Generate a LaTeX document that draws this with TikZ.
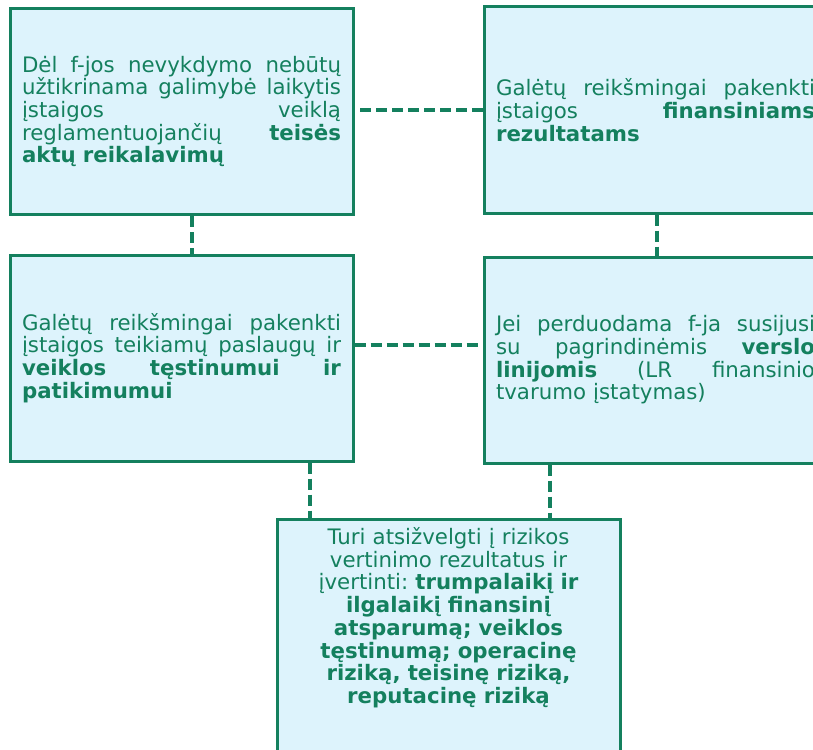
\documentclass[tikz,border=0pt]{standalone}
\usepackage{fontspec}
\setmainfont{DejaVu Sans}
\usetikzlibrary{calc}
\definecolor{grn}{RGB}{20,128,94}
\definecolor{lfill}{RGB}{221,243,252}
\frenchspacing
\tikzset{
  card/.style={draw=grn, fill=lfill, line width=3pt, text=grn,
    minimum width=343pt, minimum height=206pt, text width=319pt,
    inner xsep=0pt, inner ysep=0pt, align=left,
    font=\fontsize{21.3}{22.7}\selectfont},
  conn/.style={draw=grn, line width=4pt, dash pattern=on 11pt off 5pt},
}
\newcommand{\jline}[1]{{\spaceskip=0.318em plus 1fil\xspaceskip=\spaceskip\makebox[319pt][s]{#1}}}
\begin{document}
\begin{tikzpicture}[x=1pt,y=-1pt]
\useasboundingbox (0,0) rectangle (813,749);
\clip (0,0) rectangle (813,749);

\node[card] (b1) at (181.5,111.5) {\jline{Dėl f-jos nevykdymo nebūtų}\\
  \jline{užtikrinama galimybė laikytis}\\
  \jline{įstaigos veiklą}\\
  \jline{reglamentuojančių \textbf{teisės}}\\
  \textbf{aktų reikalavimų}};

\node[card] (b2) at (655.5,110) {\jline{Galėtų reikšmingai pakenkti}\\
  \jline{įstaigos \textbf{finansiniams}}\\
  \textbf{rezultatams}};

\node[card] (b3) at (181.5,358) {\jline{Galėtų reikšmingai pakenkti}\\
  \jline{įstaigos teikiamų paslaugų ir}\\
  \jline{\textbf{veiklos tęstinumui ir}}\\
  \textbf{patikimumui}};

\node[card] (b4) at (655.5,360) {\jline{Jei perduodama f-ja susijusi}\\
  \jline{su pagrindinėmis \textbf{verslo}}\\
  \jline{\textbf{linijomis} (LR finansinio}\\
  tvarumo įstatymas)};

\node[card, align=center, minimum height=0pt, text height=17pt, text depth=240pt,
  inner ysep=8pt, anchor=north] (b5) at (448.5,518) {Turi atsižvelgti į rizikos\\
  vertinimo rezultatus ir\\
  įvertinti: \textbf{trumpalaikį ir}\\
  \textbf{ilgalaikį finansinį}\\
  \textbf{atsparumą; veiklos}\\
  \textbf{tęstinumą; operacinę}\\
  \textbf{riziką, teisinę riziką,}\\
  \textbf{reputacinę riziką}};

\draw[conn] (b2.west) -- (b2.west -| b1.east);
\draw[conn] ([xshift=10.5pt]b1.south) -- ([xshift=10.5pt]b1.south |- b3.north);
\draw[conn] ([xshift=1.5pt]b2.south) -- ([xshift=1.5pt]b2.south |- b4.north);
\draw[conn] ([yshift=13pt]b3.east) -- ([yshift=13pt]b3.east -| b4.west);
\draw[conn] ([xshift=128.5pt]b3.south) -- ([xshift=128.5pt]b3.south |- b5.north);
\draw[conn] ([xshift=-105.5pt]b4.south) -- ([xshift=-105.5pt]b4.south |- b5.north);
\end{tikzpicture}
\end{document}
